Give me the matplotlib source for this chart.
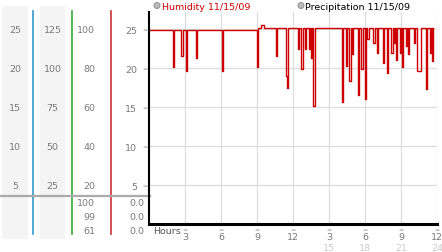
import matplotlib
matplotlib.use('Agg')
import matplotlib.pyplot as plt
from matplotlib.patches import Rectangle, Circle

# humidity readings (hours since midnight, value on the 0-27 scale), step data
hours = [0.0, 2.0, 2.1, 2.7, 2.8, 3.1, 3.2, 3.9, 4.0, 6.1, 6.2,
         9.0, 9.1, 9.3, 9.6, 10.6, 10.7, 11.4, 11.5, 11.6,
         12.4, 12.5, 12.7, 12.8, 13.0, 13.1, 13.3, 13.4, 13.5, 13.6, 13.7, 13.8,
         16.1, 16.2, 16.4, 16.5, 16.7, 16.8, 16.9, 17.0, 17.4, 17.5, 17.7, 17.8,
         18.0, 18.1, 18.2, 18.3, 18.7, 18.8, 19.0, 19.1, 19.5, 19.6, 19.8, 19.9,
         20.2, 20.3, 20.4, 20.5, 20.6, 20.7, 20.9, 21.0, 21.1, 21.2, 21.4, 21.5,
         21.6, 21.7, 22.1, 22.2, 22.35, 22.65, 23.1, 23.2, 23.4, 23.5, 23.6, 23.7]
humidity = [24.9, 20.2, 24.9, 21.6, 24.9, 19.6, 24.9, 21.3, 24.9, 19.6, 24.9,
            20.2, 25.2, 25.5, 25.2, 21.6, 25.2, 19.0, 17.5, 25.2,
            22.4, 25.2, 19.9, 25.2, 22.4, 25.2, 22.4, 25.2, 21.3, 25.2, 15.2, 25.2,
            15.6, 25.2, 20.3, 25.2, 18.4, 25.2, 21.8, 25.2, 16.5, 25.2, 19.9, 25.2,
            16.1, 25.2, 23.7, 25.2, 23.2, 25.2, 21.9, 25.2, 20.7, 25.2, 19.4, 25.2,
            21.9, 25.2, 23.2, 25.2, 21.1, 25.2, 21.9, 25.2, 20.2, 25.2, 22.8, 25.2,
            21.8, 25.2, 23.2, 25.2, 19.6, 25.2, 17.3, 25.2, 21.9, 25.2, 20.9, 25.2]

y_ticks = [5, 10, 15, 20, 25]
col1_labels = ['5', '10', '15', '20', '25']
col2_labels = ['25', '50', '75', '100', '125']
col3_labels = ['20', '40', '60', '80', '100']
col3_bottom = ['100', '99', '61']
col4_bottom = ['0.0', '0.0', '0.0']
x_ticks = [3, 6, 9, 12, 15, 18, 21, 24]
x_labels = ['3', '6', '9', '12', '3', '6', '9', '12']
x_labels2 = ['15', '18', '21', '24']

W, H = 442, 253
FS = 6.8
GREY = '#7a7a7a'

fig = plt.figure(figsize=(W / 100, H / 100), dpi=100)
fig.patch.set_facecolor('white')

# pixel overlay for panels / separators / legend
bg = fig.add_axes([0, 0, 1, 1], zorder=0)
bg.set_xlim(0, W)
bg.set_ylim(H, 0)
bg.axis('off')
bg.add_patch(Rectangle((2, 7), 26, 233, color='#f4f4f4', lw=0))
bg.add_patch(Rectangle((40, 7), 25, 233, color='#f4f4f4', lw=0))
bg.plot([33, 33], [12, 235], color='#3399cc', lw=1.2)
bg.plot([72, 72], [12, 235], color='#33aa33', lw=1.2)
bg.plot([111, 111], [12, 235], color='#cc3333', lw=1.2)
bg.plot([0, 150], [197, 197], color='#aaaaaa', lw=1.6)
for i, y in enumerate([204, 218, 232]):
    bg.text(95, y, col3_bottom[i], ha='right', va='center', fontsize=FS, color=GREY)
    bg.text(144, y, col4_bottom[i], ha='right', va='center', fontsize=FS, color=GREY)

# legend
bg.add_patch(Circle((157, 6.5), 3, facecolor='#bbbbbb', edgecolor='#888888', lw=0.6))
bg.text(162, 7, 'Humidity 11/15/09', color='#cc0000', fontsize=FS, va='center')
bg.add_patch(Circle((301, 6.5), 3, facecolor='#bbbbbb', edgecolor='#888888', lw=0.6))
bg.text(305, 7, 'Precipitation 11/15/09', color='black', fontsize=FS, va='center')
bg.text(153, 232, 'Hours', color='#555555', fontsize=FS, va='center')

# main chart
ax = fig.add_axes([149 / W, 1 - 225 / H, (437 - 149) / W, (225 - 13) / H], zorder=2)
ax.set_facecolor('none')
ax.plot(hours, humidity, drawstyle='steps-post', color='#cc0000', lw=1)
ax.set_xlim(0, 24)
ax.set_ylim(0, 27.2)
ax.set_yticks(y_ticks)
ax.set_yticklabels(col1_labels)
ax.set_xticks(x_ticks)
ax.set_xticklabels(x_labels)
ax.tick_params(length=0, labelsize=FS, labelcolor=GREY)
ax.tick_params(axis='y', pad=8.5)
ax.tick_params(axis='x', pad=5.5)
ax.grid(color='#dddddd', lw=0.9)
ax.set_axisbelow(True)
for s in ['top', 'right']:
    ax.spines[s].set_visible(False)
ax.spines['left'].set_linewidth(1.5)
ax.spines['bottom'].set_linewidth(2.2)
for i, t in enumerate(x_ticks):
    ax.annotate('≈', (t, 0), xytext=(0, -2), textcoords='offset points',
                ha='center', va='top', fontsize=4.5, color='#999999',
                annotation_clip=False)
for i, t in enumerate(x_ticks[4:]):
    ax.annotate(x_labels2[i], (t, 0), xytext=(0, -13.5), textcoords='offset points',
                ha='center', va='top', fontsize=FS, color='#cccccc',
                annotation_clip=False)

# left columns share the main y scale
left = fig.add_axes([0, 1 - 225 / H, 149 / W, (225 - 13) / H], sharey=ax, zorder=1)
left.set_xlim(0, 149)
left.axis('off')
for i, v in enumerate(y_ticks):
    left.text(15, v, col1_labels[i], ha='center', va='center', fontsize=FS, color=GREY)
    left.text(52.5, v, col2_labels[i], ha='center', va='center', fontsize=FS, color=GREY)
    left.text(95, v, col3_labels[i], ha='right', va='center', fontsize=FS, color=GREY)
    left.text(145, v, '≈', ha='center', va='center', fontsize=4.5, color='#999999')

fig.savefig('out.png', dpi=100)
plt.close(fig)
